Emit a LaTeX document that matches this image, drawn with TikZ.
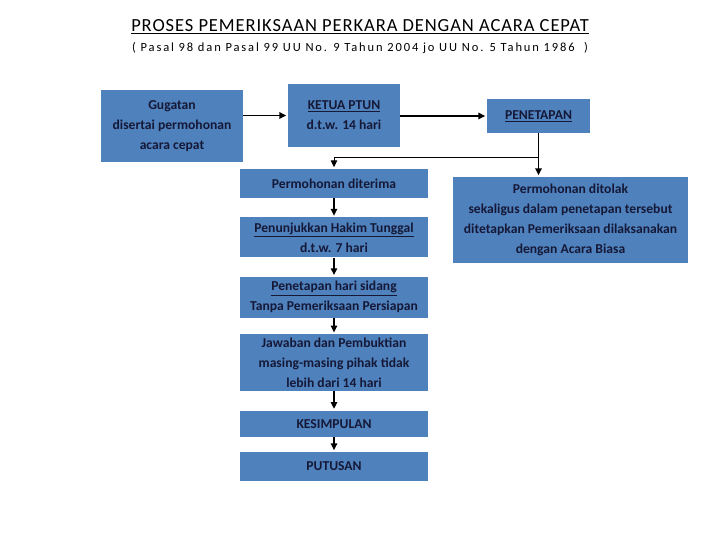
\documentclass[tikz,border=0pt]{standalone}
\usepackage{fontspec}
\setmainfont{Carlito}
\usepackage{tikz}
\usetikzlibrary{arrows.meta,positioning}
\definecolor{boxblue}{HTML}{4F81BD}
\definecolor{inkx}{HTML}{151836}
\tikzset{
  ar/.style={-{Triangle[length=2.4mm,width=2.2mm]},line width=1.7pt,black,shorten >=1.5pt},
  thinar/.style={-{Triangle[length=2.4mm,width=2.2mm]},line width=1pt,black,shorten >=1.5pt},
  box/.style={fill=boxblue,text=inkx,font=\fontsize{13.6}{20}\selectfont\bfseries,align=center,inner sep=2pt},
  colbox/.style={box,minimum width=188pt}
}
\begin{document}
\begin{tikzpicture}[x=1pt,y=1pt]
\useasboundingbox (0,0) rectangle (720,540);
% judul
\node[font=\fontsize{18.5}{20}\selectfont\addfontfeature{LetterSpace=5}] (title) at (360,513) {\underline{PROSES PEMERIKSAAN PERKARA DENGAN ACARA CEPAT}};
\node[font=\fontsize{12.5}{14}\selectfont\addfontfeature{LetterSpace=15}] (sub) at (360,492) {( Pasal 98 dan Pasal 99 UU No. 9 Tahun 2004 jo UU No. 5 Tahun 1986 \ )};
% baris atas
\node[box,minimum width=142pt,minimum height=72pt] (gug) at (172,414) {Gugatan\\disertai permohonan\\acara cepat};
\node[box,minimum width=112pt,minimum height=63pt] (ketua) at (344,424.5) {\underline{KETUA PTUN}\\d.t.w. 14 hari};
\node[box,minimum width=103pt,minimum height=34pt] (pen) at (538.5,424) {\underline{PENETAPAN}};
\node[box,minimum width=235pt,minimum height=86pt] (tolak) at (570.5,320) {Permohonan ditolak\\sekaligus dalam penetapan tersebut\\ditetapkan Pemeriksaan dilaksanakan\\dengan Acara Biasa};
% kolom tengah
\node[colbox,minimum height=29pt] (terima) at (334,356.5) {Permohonan diterima};
\node[colbox,minimum height=40pt,below=19pt of terima] (tunjuk) {\underline{Penunjukkan Hakim Tunggal}\\d.t.w. 7 hari};
\node[colbox,minimum height=41pt,below=19pt of tunjuk] (sidang) {\underline{Penetapan hari sidang}\\Tanpa Pemeriksaan Persiapan};
\node[colbox,minimum height=57pt,below=16pt of sidang] (jawab) {Jawaban dan Pembuktian\\masing-masing pihak tidak\\lebih dari 14 hari};
\node[colbox,minimum height=26pt,below=19pt of jawab] (simpul) {KESIMPULAN};
\node[colbox,minimum height=29pt,below=15pt of simpul] (putus) {PUTUSAN};
% panah
\draw[ar] (gug.east |- ketua.west) -- (ketua.west);
\draw[ar] (ketua.east |- pen.west) -- (pen.west);
\coordinate (fork) at (pen.south |- 0,382);
\coordinate (forkl) at (terima.north |- fork);
\draw[ar] (pen.south) -- (pen.south |- tolak.north);
\draw[line width=1pt] (fork) -- (forkl);
\draw[thinar] (forkl) -- (terima.north);
\foreach \a/\b in {terima/tunjuk,tunjuk/sidang,sidang/jawab,jawab/simpul,simpul/putus}
  \draw[ar] (\a.south) -- (\b.north);
\end{tikzpicture}
\end{document}
